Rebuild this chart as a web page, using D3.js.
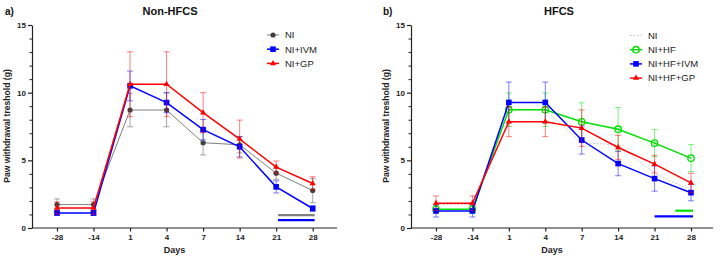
<!DOCTYPE html>
<html><head><meta charset="utf-8">
<script src="https://cdn.jsdelivr.net/npm/d3@7/dist/d3.min.js"></script>
<style>body{margin:0;background:#fff}svg{display:block;font-family:"Liberation Sans",Arial,sans-serif}</style>
</head><body><svg id="c" width="723" height="262"></svg>
<script>
const days = ["-28","-14","1","4","7","14","21","28"];
const yTicks = [0,5,10,15];
// Panel a) Non-HFCS
const ni      = [1.73,1.73,8.72,8.72,6.30,6.15,4.05,2.77];
const niErr   = [0.42,0.42,1.24,1.24,0.90,0.60,0.45,0.90];
const niIvm   = [1.11,1.11,10.50,9.27,7.27,6.00,3.04,1.44];
const niIvmErr= [0.18,0.18,1.10,0.75,0.75,0.75,0.45,0.20];
const niGp    = [1.48,1.48,10.62,10.62,8.52,6.57,4.50,3.29];
const niGpErr = [0.45,0.45,2.40,2.40,1.48,1.40,0.45,0.50];
// Panel b) HFCS
const niHf      = [1.38,1.38,8.74,8.74,7.85,7.30,6.27,5.16];
const niHfErr   = [0.30,0.30,1.24,1.24,1.40,1.60,1.00,1.00];
const niHfIvm   = [1.26,1.26,9.28,9.28,6.50,4.76,3.65,2.61];
const niHfIvmErr= [0.45,0.45,1.50,1.50,1.04,0.90,0.93,0.60];
const niHfGp    = [1.83,1.83,7.85,7.85,7.38,5.95,4.72,3.33];
const niHfGpErr = [0.54,0.54,1.10,1.10,1.35,0.90,0.65,0.72];

const svg = d3.select("#c");
const FONT = '"Liberation Sans",Arial,sans-serif';

function marker(g, type, color, x, y){
  if(type==="circle") g.append("circle").attr("cx",x).attr("cy",y).attr("r",2.6).attr("fill","#404040");
  else if(type==="square") g.append("rect").attr("x",x-2.8).attr("y",y-2.8).attr("width",5.6).attr("height",5.6).attr("fill",color);
  else if(type==="triangle") g.append("path").attr("d",d3.symbol(d3.symbolTriangle,16)()).attr("transform",`translate(${x},${y})`).attr("fill",color);
  else if(type==="ocircle") g.append("circle").attr("cx",x).attr("cy",y).attr("r",3.2).attr("fill","none").attr("stroke",color).attr("stroke-width",1.3);
}

function panel(cfg){
  const g = svg.append("g");
  const x = d3.scalePoint().domain(days).range([cfg.xFirst, cfg.xLast]);
  const y = d3.scaleLinear().domain([0,15]).range([228,25]);
  // y axis
  const ya = g.append("g").attr("transform",`translate(${cfg.ax0},0)`)
    .call(d3.axisLeft(y).tickValues(yTicks).tickSize(4).tickSizeOuter(0).tickFormat(d3.format("d")));
  ya.select(".domain").attr("stroke","#222").attr("stroke-width",1.2);
  ya.selectAll(".tick line").attr("stroke","#222").attr("stroke-width",1.2);
  ya.selectAll("text").attr("font-family",FONT).attr("font-weight","bold").attr("font-size",8).attr("fill","#222").attr("x",-6);
  g.append("g").attr("transform",`translate(${cfg.ax0},0)`)
    .call(d3.axisLeft(y).tickValues(d3.range(0,16).filter(v=>v%5)).tickSize(2.5).tickFormat(""))
    .call(a=>{a.select(".domain").remove();a.selectAll("line").attr("stroke","#222");});
  // x axis
  const xa = g.append("g").attr("transform",`translate(0,228)`)
    .call(d3.axisBottom(x).tickSize(3.5));
  xa.select(".domain").remove();
  xa.selectAll(".tick line").attr("stroke","#222").attr("stroke-width",1.2);
  xa.selectAll("text").attr("font-family",FONT).attr("font-weight","bold").attr("font-size",8).attr("fill","#222").attr("y",6.5);
  g.append("line").attr("x1",cfg.ax0).attr("x2",cfg.ax1).attr("y1",228).attr("y2",228).attr("stroke","#222").attr("stroke-width",1.2);
  // labels
  g.append("text").attr("x",(cfg.ax0+cfg.ax1)/2-10).attr("y",253).attr("text-anchor","middle")
    .attr("font-family",FONT).attr("font-weight","bold").attr("font-size",9).attr("fill","#222").text("Days");
  g.append("text").attr("transform",`translate(${cfg.ax0-22},126) rotate(-90)`).attr("text-anchor","middle")
    .attr("font-family",FONT).attr("font-weight","bold").attr("font-size",8.6).attr("fill","#222").text("Paw withdrawal treshold (g)");
  g.append("text").attr("x",cfg.titleX).attr("y",15).attr("text-anchor","middle")
    .attr("font-family",FONT).attr("font-weight","bold").attr("font-size",11).attr("fill","#111").text(cfg.title);
  g.append("text").attr("x",cfg.tagX).attr("y",15)
    .attr("font-family",FONT).attr("font-weight","bold").attr("font-size",10).attr("fill","#111").text(cfg.tag);
  // series
  const line = d3.line().x((d,i)=>x(days[i])).y(d=>y(d));
  cfg.series.forEach(s=>{
    const sg = g.append("g");
    if(s.err){
      s.values.forEach((v,i)=>{
        const cx = x(days[i]);
        const e = s.err[i];
        sg.append("path").attr("d",`M${cx},${y(v+e)}V${y(v-e)}M${cx-3},${y(v+e)}H${cx+3}M${cx-3},${y(v-e)}H${cx+3}`)
          .attr("stroke",s.errColor).attr("stroke-width",1).attr("fill","none").attr("opacity",0.5);
      });
    }
    sg.append("path").attr("d",line(s.values)).attr("fill","none").attr("stroke",s.color)
      .attr("stroke-width",s.width).attr("stroke-dasharray",s.dash||null);
    if(s.marker) s.values.forEach((v,i)=>marker(sg,s.marker,s.color,x(days[i]),y(v)));
  });
  // legend
  cfg.series.forEach((s,i)=>{
    const ly = cfg.legY + i*14.2;
    g.append("line").attr("x1",cfg.legX).attr("x2",cfg.legX+12).attr("y1",ly).attr("y2",ly)
      .attr("stroke",s.color).attr("stroke-width",s.width).attr("stroke-dasharray",s.dash||null);
    if(s.marker) marker(g,s.marker,s.color,cfg.legX+6,ly);
    g.append("text").attr("x",cfg.legX+18).attr("y",ly+3.3).attr("font-family",FONT).attr("font-size",9.5).attr("fill","#222").text(s.name);
  });
  // significance bars
  const step = x.step();
  cfg.sig.forEach(b=>{
    g.append("line").attr("x1",x(days[6])+b.from*step).attr("x2",x(days[7])+2).attr("y1",y(b.level)).attr("y2",y(b.level))
      .attr("stroke",b.color).attr("stroke-width",2.2);
  });
}

panel({title:"Non-HFCS", tag:"a)", tagX:5, titleX:170, ax0:32, ax1:337, xFirst:57, xLast:312.7,
  legX:267, legY:35,
  series:[
    {name:"NI", values:ni, err:niErr, color:"#808080", errColor:"#505050", width:1, marker:"circle"},
    {name:"NI+IVM", values:niIvm, err:niIvmErr, color:"#0000ff", errColor:"#0000ff", width:1.5, marker:"square"},
    {name:"NI+GP", values:niGp, err:niGpErr, color:"#ff0000", errColor:"#ff0000", width:1.5, marker:"triangle"}
  ],
  sig:[{color:"#808080", level:0.95, from:0.05},{color:"#0000ff", level:0.58, from:0.05}]
});
panel({title:"HFCS", tag:"b)", tagX:383, titleX:559, ax0:411, ax1:713, xFirst:436, xLast:691,
  legX:630, legY:35.5,
  series:[
    {name:"NI", values:ni, err:null, color:"#cccccc", width:1, dash:"2,1.5"},
    {name:"NI+HF", values:niHf, err:niHfErr, color:"#00e000", errColor:"#00e000", width:1.5, marker:"ocircle"},
    {name:"NI+HF+IVM", values:niHfIvm, err:niHfIvmErr, color:"#0000ff", errColor:"#0000ff", width:1.5, marker:"square"},
    {name:"NI+HF+GP", values:niHfGp, err:niHfGpErr, color:"#ff0000", errColor:"#ff0000", width:1.5, marker:"triangle"}
  ],
  sig:[{color:"#00e000", level:1.28, from:0.57},{color:"#0000ff", level:0.86, from:0.0}]
});
</script></body></html>
